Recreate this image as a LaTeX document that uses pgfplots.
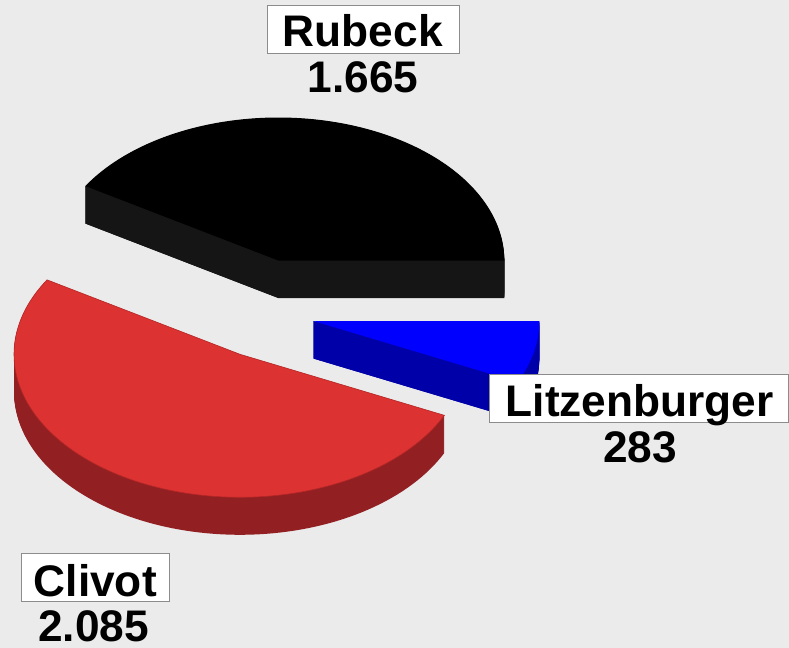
\documentclass[border=0pt]{standalone}
\usepackage{pgfplots}
\usepackage{pgfplotstable}
\pgfplotsset{compat=1.18}
\usepackage{fontspec}
\setmainfont{Liberation Sans}

\definecolor{bg}{RGB}{235,235,235}
\definecolor{rubTop}{RGB}{0,0,0}
\definecolor{rubSide}{RGB}{21,21,21}
\definecolor{litTop}{RGB}{0,0,255}
\definecolor{litSide}{RGB}{0,0,168}
\definecolor{cliTop}{RGB}{220,50,50}
\definecolor{cliSide}{RGB}{146,32,34}
\definecolor{cliEdge}{RGB}{180,38,38}
\definecolor{boxline}{RGB}{140,140,140}

% chart data
\pgfplotstableread{
name value
Rubeck 1665
Clivot 2085
Litzenburger 283
}\datatable
\pgfplotstablegetelem{0}{value}\of\datatable \let\vRub\pgfplotsretval
\pgfplotstablegetelem{1}{value}\of\datatable \let\vCli\pgfplotsretval
\pgfplotstablegetelem{2}{value}\of\datatable \let\vLit\pgfplotsretval
\pgfmathsetmacro{\total}{\vRub+\vCli+\vLit}
\pgfmathsetmacro{\aRub}{360*(\vRub/\total)}
\pgfmathsetmacro{\aCli}{\aRub+360*(\vCli/\total)}

% geometry (pixels)
\def\rx{226}\def\ry{143}\def\dep{37.5}
\def\cxR{278.3}\def\cyR{260.5}
\def\cxL{313.3}\def\cyL{321}
\def\cxC{240}\def\cyC{354.3}
% radial edge end points
\pgfmathsetmacro{\RAx}{\cxR+\rx}            \pgfmathsetmacro{\RAy}{\cyR}
\pgfmathsetmacro{\RBx}{\cxR+\rx*cos(\aRub)} \pgfmathsetmacro{\RBy}{\cyR-\ry*sin(\aRub)}
\pgfmathsetmacro{\LAx}{\cxL+\rx*cos(\aCli)} \pgfmathsetmacro{\LAy}{\cyL-\ry*sin(\aCli)}
\pgfmathsetmacro{\RAyd}{\RAy+\dep}\pgfmathsetmacro{\RByd}{\RBy+\dep}
\pgfmathsetmacro{\LAyd}{\LAy+\dep}
\pgfmathsetmacro{\cyRd}{\cyR+\dep}\pgfmathsetmacro{\cyLd}{\cyL+\dep}

\newcommand\labelfont{\fontsize{44.4}{46}\selectfont\bfseries}

\begin{document}
\begin{tikzpicture}
\begin{axis}[
  width=789bp, height=648bp, scale only axis,
  xmin=0, xmax=789, ymin=0, ymax=648, y dir=reverse,
  axis line style={draw=none}, ticks=none,
  axis background/.style={fill=bg},
]
% ---- Rubeck
\pgfplotsinvokeforeach{1,...,38}{
  \addplot[draw=none, fill=rubSide, domain=0:\aRub, samples=80]
    ({\cxR+\rx*cos(x)},{\cyR+#1-0.5-\ry*sin(x)}) -- (axis cs:\cxR,{\cyR+#1-0.5}) -- cycle;
}
\addplot[draw=none, fill=rubSide] coordinates {(\cxR,\cyR) (\RAx,\RAy) (\RAx,\RAyd) (\cxR,\cyRd)} -- cycle;
\addplot[draw=none, fill=rubSide] coordinates {(\cxR,\cyR) (\RBx,\RBy) (\RBx,\RByd) (\cxR,\cyRd)} -- cycle;
\addplot[draw=none, fill=rubTop, domain=0:\aRub, samples=100]
  ({\cxR+\rx*cos(x)},{\cyR-\ry*sin(x)}) -- (axis cs:\cxR,\cyR) -- cycle;
% ---- Litzenburger
\pgfplotsinvokeforeach{1,...,38}{
  \addplot[draw=none, fill=litSide, domain=\aCli:360, samples=30]
    ({\cxL+\rx*cos(x)},{\cyL+#1-0.5-\ry*sin(x)}) -- (axis cs:\cxL,{\cyL+#1-0.5}) -- cycle;
}
\addplot[draw=none, fill=litSide] coordinates {(\cxL,\cyL) (\LAx,\LAy) (\LAx,\LAyd) (\cxL,\cyLd)} -- cycle;
\addplot[draw=none, fill=litTop, domain=\aCli:360, samples=40]
  ({\cxL+\rx*cos(x)},{\cyL-\ry*sin(x)}) -- (axis cs:\cxL,\cyL) -- cycle;
% ---- Clivot
\pgfplotsinvokeforeach{1,...,38}{
  \addplot[draw=none, fill=cliSide, domain=\aRub:\aCli, samples=100]
    ({\cxC+\rx*cos(x)},{\cyC+#1-0.5-\ry*sin(x)}) -- (axis cs:\cxC,{\cyC+#1-0.5}) -- cycle;
}
\addplot[draw=cliEdge, line width=0.6pt, fill=cliTop, domain=\aRub:\aCli, samples=120]
  ({\cxC+\rx*cos(x)},{\cyC-\ry*sin(x)}) -- (axis cs:\cxC,\cyC) -- cycle;

% ---- labels
\draw[boxline, line width=1bp, fill=white] (axis cs:267.7,5.7) rectangle (axis cs:459,54);
\node[anchor=base, inner sep=0pt, font=\labelfont] at (axis cs:362.8,46.7) {Rubeck};
\node[anchor=base, inner sep=0pt, font=\labelfont] at (axis cs:363,92.7) {1.665};

\draw[boxline, line width=1bp, fill=white] (axis cs:489,374) rectangle (axis cs:788.5,422.7);
\node[anchor=base, inner sep=0pt, font=\labelfont] at (axis cs:639.7,416.7) {Litzenburger};
\node[anchor=base, inner sep=0pt, font=\labelfont] at (axis cs:640,462.5) {283};

\draw[boxline, line width=1bp, fill=white] (axis cs:21,553.3) rectangle (axis cs:169,601.7);
\node[anchor=base, inner sep=0pt, font=\labelfont] at (axis cs:95.3,596.7) {Clivot};
\node[anchor=base, inner sep=0pt, font=\labelfont] at (axis cs:93.5,641) {2.085};
\end{axis}
\end{tikzpicture}
\end{document}
